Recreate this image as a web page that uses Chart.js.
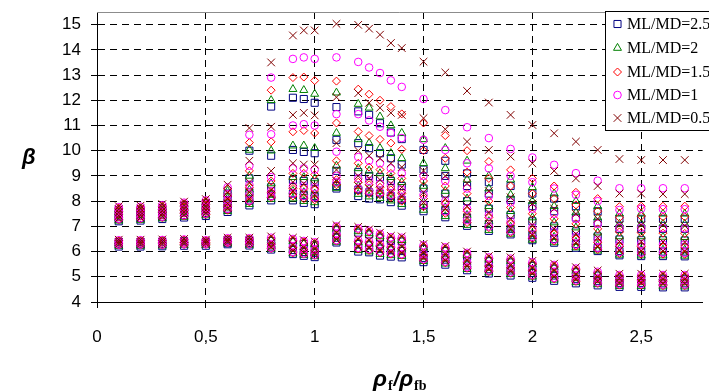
<!DOCTYPE html>
<html>
<head>
<meta charset="utf-8">
<script src="https://cdn.jsdelivr.net/npm/chart.js@4/dist/chart.umd.min.js"></script>
<style>
  html, body { margin: 0; padding: 0; background: #fff; overflow: hidden; }
  #wrap { width: 709px; height: 392px; position: relative; }
</style>
</head>
<body>
<div id="wrap"><canvas id="betaChart"></canvas></div>
<script>
// rho_f / rho_fb columns
const xValues = [0.1, 0.2, 0.3, 0.4, 0.5, 0.6, 0.7, 0.8, 0.9, 0.95, 1.0, 1.1, 1.2, 1.25, 1.3, 1.35, 1.4,
    1.5, 1.6, 1.7, 1.8, 1.9, 2.0, 2.1, 2.2, 2.3, 2.4, 2.5, 2.6, 2.7];

const xTickValues = [0, 0.5, 1, 1.5, 2, 2.5];
const yTickValues = [4, 5, 6, 7, 8, 9, 10, 11, 12, 13, 14, 15];

const seriesNames = ['ML/MD=2.5', 'ML/MD=2', 'ML/MD=1.5', 'ML/MD=1', 'ML/MD=0.5'];

// beta values per column (one list per xValues entry)
const beta25 = [
    [7.64, 7.52, 7.41, 7.3, 7.2, 6.38, 6.29, 6.2],
    [7.66, 7.54, 7.43, 7.33, 7.23, 6.38, 6.29, 6.2],
    [7.72, 7.6, 7.48, 7.38, 7.29, 6.39, 6.3, 6.21],
    [7.82, 7.69, 7.56, 7.45, 7.35, 6.41, 6.31, 6.23],
    [7.91, 7.77, 7.64, 7.52, 7.41, 6.38, 6.31, 6.23],
    [8.3, 8.05, 7.86, 7.7, 7.57, 6.45, 6.35, 6.29],
    [10.0, 8.9, 8.35, 8.02, 7.83, 6.45, 6.34, 6.24],
    [11.75, 9.8, 8.55, 8.2, 8.03, 6.42, 6.2, 6.08],
    [12.1, 10.03, 8.84, 8.3, 8.03, 6.37, 6.06, 5.9],
    [12.05, 9.95, 8.8, 8.25, 7.93, 6.3, 5.98, 5.83],
    [11.9, 9.9, 8.75, 8.2, 7.88, 6.25, 5.95, 5.78],
    [11.73, 10.43, 9.2, 8.6, 8.5, 6.85, 6.55, 6.36],
    [11.56, 10.3, 9.15, 8.45, 8.2, 6.75, 6.3, 6.0],
    [11.42, 10.1, 9.0, 8.35, 8.1, 6.68, 6.25, 5.97],
    [11.09, 9.9, 8.95, 8.3, 8.07, 6.55, 6.12, 5.84],
    [10.72, 9.7, 8.8, 8.2, 7.96, 6.42, 6.05, 5.8],
    [10.46, 9.45, 8.6, 8.05, 7.82, 6.4, 6.02, 5.77],
    [10.03, 9.25, 8.5, 7.85, 7.6, 6.1, 5.75, 5.58],
    [9.6, 9.0, 8.3, 7.65, 7.36, 6.02, 5.68, 5.48],
    [9.1, 8.6, 8.0, 7.35, 7.02, 5.8, 5.45, 5.26],
    [8.75, 8.3, 7.7, 7.1, 6.82, 5.62, 5.3, 5.13],
    [8.6, 8.05, 7.45, 6.9, 6.68, 5.57, 5.25, 5.05],
    [8.3, 7.8, 7.2, 6.65, 6.45, 5.43, 5.15, 4.96],
    [8.1, 7.6, 7.0, 6.5, 6.35, 5.32, 5.05, 4.84],
    [7.8, 7.35, 6.8, 6.3, 6.15, 5.18, 4.92, 4.74],
    [7.6, 7.15, 6.6, 6.15, 6.02, 5.05, 4.84, 4.66],
    [7.3, 6.9, 6.48, 6.02, 5.85, 4.92, 4.76, 4.6],
    [7.3, 6.9, 6.45, 6.0, 5.82, 4.92, 4.76, 4.6],
    [7.3, 6.9, 6.45, 6.0, 5.82, 4.92, 4.74, 4.58],
    [7.3, 6.9, 6.44, 6.0, 5.81, 4.92, 4.74, 4.58],
];

const beta2 = [
    [7.68, 7.56, 7.45, 7.33, 7.22, 6.4, 6.31, 6.22],
    [7.7, 7.58, 7.47, 7.36, 7.25, 6.4, 6.31, 6.22],
    [7.76, 7.64, 7.52, 7.41, 7.31, 6.41, 6.32, 6.23],
    [7.86, 7.73, 7.6, 7.48, 7.37, 6.43, 6.33, 6.25],
    [7.95, 7.81, 7.68, 7.55, 7.43, 6.4, 6.33, 6.25],
    [8.4, 8.12, 7.92, 7.74, 7.6, 6.47, 6.37, 6.31],
    [10.03, 9.0, 8.45, 8.1, 7.88, 6.47, 6.36, 6.26],
    [12.0, 10.0, 8.7, 8.25, 8.08, 6.45, 6.23, 6.1],
    [12.44, 10.2, 8.95, 8.4, 8.1, 6.4, 6.1, 5.92],
    [12.4, 10.2, 8.95, 8.35, 8.0, 6.33, 6.02, 5.86],
    [12.25, 10.1, 8.9, 8.3, 7.95, 6.28, 5.98, 5.81],
    [12.3, 10.7, 9.4, 8.7, 8.52, 6.9, 6.6, 6.38],
    [11.85, 10.45, 9.3, 8.6, 8.28, 6.8, 6.35, 6.05],
    [11.7, 10.3, 9.2, 8.5, 8.18, 6.72, 6.3, 6.0],
    [11.35, 10.1, 9.1, 8.4, 8.12, 6.6, 6.18, 5.9],
    [11.0, 9.9, 8.95, 8.3, 8.02, 6.47, 6.1, 5.85],
    [10.7, 9.7, 8.75, 8.15, 7.88, 6.45, 6.07, 5.82],
    [10.45, 9.5, 8.6, 7.95, 7.65, 6.15, 5.8, 5.62],
    [10.1, 9.3, 8.4, 7.75, 7.4, 6.07, 5.73, 5.52],
    [9.6, 8.85, 8.1, 7.45, 7.05, 5.85, 5.5, 5.3],
    [9.0, 8.5, 7.8, 7.2, 6.85, 5.67, 5.35, 5.17],
    [8.85, 8.25, 7.6, 6.98, 6.7, 5.62, 5.3, 5.1],
    [8.55, 8.0, 7.35, 6.72, 6.46, 5.48, 5.2, 5.0],
    [8.3, 7.8, 7.15, 6.58, 6.36, 5.37, 5.1, 4.88],
    [8.0, 7.55, 6.95, 6.38, 6.16, 5.23, 4.96, 4.78],
    [7.8, 7.35, 6.75, 6.25, 6.03, 5.1, 4.88, 4.7],
    [7.5, 7.1, 6.6, 6.1, 5.87, 4.97, 4.8, 4.63],
    [7.5, 7.1, 6.6, 6.08, 5.84, 4.97, 4.8, 4.63],
    [7.5, 7.1, 6.58, 6.07, 5.84, 4.97, 4.78, 4.61],
    [7.5, 7.1, 6.57, 6.07, 5.83, 4.97, 4.78, 4.61],
];

const beta15 = [
    [7.72, 7.6, 7.49, 7.37, 7.27, 6.43, 6.34, 6.26],
    [7.74, 7.62, 7.51, 7.4, 7.3, 6.43, 6.34, 6.26],
    [7.8, 7.68, 7.56, 7.45, 7.35, 6.44, 6.35, 6.26],
    [7.9, 7.77, 7.64, 7.52, 7.41, 6.46, 6.36, 6.28],
    [7.99, 7.85, 7.72, 7.59, 7.47, 6.43, 6.36, 6.28],
    [8.48, 8.2, 7.98, 7.8, 7.64, 6.5, 6.4, 6.34],
    [10.32, 9.2, 8.55, 8.2, 7.97, 6.5, 6.39, 6.29],
    [12.4, 10.35, 8.8, 8.35, 8.15, 6.5, 6.27, 6.12],
    [12.9, 10.75, 9.1, 8.5, 8.2, 6.45, 6.15, 5.95],
    [12.92, 10.8, 9.1, 8.5, 8.1, 6.38, 6.07, 5.9],
    [12.78, 10.7, 9.05, 8.45, 8.05, 6.33, 6.03, 5.85],
    [12.76, 11.1, 9.6, 8.85, 8.65, 6.96, 6.66, 6.42],
    [12.44, 10.76, 9.5, 8.75, 8.4, 6.87, 6.4, 6.1],
    [12.24, 10.6, 9.35, 8.65, 8.3, 6.78, 6.35, 6.05],
    [12.0, 10.45, 9.25, 8.55, 8.25, 6.65, 6.25, 5.95],
    [11.75, 10.3, 9.1, 8.45, 8.15, 6.52, 6.15, 5.9],
    [11.46, 10.05, 8.9, 8.3, 8.0, 6.5, 6.12, 5.86],
    [11.1, 10.0, 8.8, 8.1, 7.78, 6.2, 5.85, 5.66],
    [10.6, 9.7, 8.6, 7.9, 7.52, 6.12, 5.78, 5.56],
    [10.0, 9.15, 8.3, 7.6, 7.15, 5.9, 5.55, 5.34],
    [9.57, 8.9, 8.0, 7.35, 6.95, 5.72, 5.4, 5.21],
    [9.24, 8.6, 7.75, 7.1, 6.75, 5.67, 5.35, 5.14],
    [8.9, 8.3, 7.5, 6.85, 6.52, 5.53, 5.25, 5.04],
    [8.6, 8.1, 7.3, 6.7, 6.42, 5.42, 5.15, 4.92],
    [8.35, 7.85, 7.1, 6.5, 6.22, 5.28, 5.0, 4.82],
    [8.1, 7.6, 6.9, 6.35, 6.08, 5.15, 4.92, 4.74],
    [7.78, 7.35, 6.78, 6.2, 5.92, 5.02, 4.84, 4.67],
    [7.8, 7.4, 6.75, 6.2, 5.9, 5.02, 4.84, 4.67],
    [7.8, 7.38, 6.73, 6.18, 5.9, 5.02, 4.82, 4.65],
    [7.8, 7.38, 6.72, 6.18, 5.89, 5.02, 4.82, 4.65],
];

const beta1 = [
    [7.76, 7.64, 7.52, 7.4, 7.3, 6.45, 6.36, 6.28],
    [7.78, 7.66, 7.54, 7.43, 7.33, 6.45, 6.36, 6.28],
    [7.84, 7.71, 7.59, 7.48, 7.38, 6.46, 6.37, 6.28],
    [7.94, 7.8, 7.67, 7.55, 7.44, 6.48, 6.38, 6.3],
    [8.03, 7.88, 7.75, 7.62, 7.5, 6.45, 6.38, 6.3],
    [8.55, 8.27, 8.04, 7.86, 7.69, 6.53, 6.43, 6.36],
    [10.63, 9.4, 8.65, 8.28, 8.03, 6.53, 6.41, 6.31],
    [12.9, 10.65, 8.95, 8.4, 8.2, 6.55, 6.3, 6.15],
    [13.64, 11.0, 9.3, 8.6, 8.3, 6.5, 6.2, 5.98],
    [13.7, 11.05, 9.3, 8.6, 8.2, 6.42, 6.1, 5.92],
    [13.64, 11.0, 9.25, 8.55, 8.15, 6.37, 6.06, 5.87],
    [13.7, 11.45, 9.96, 9.0, 8.75, 7.0, 6.7, 6.45],
    [13.52, 11.45, 9.75, 8.9, 8.5, 6.92, 6.45, 6.15],
    [13.3, 11.2, 9.6, 8.8, 8.4, 6.83, 6.4, 6.1],
    [13.08, 10.95, 9.5, 8.7, 8.35, 6.7, 6.3, 6.0],
    [12.79, 10.7, 9.3, 8.6, 8.25, 6.57, 6.2, 5.94],
    [12.53, 10.5, 9.1, 8.45, 8.1, 6.55, 6.16, 5.9],
    [12.05, 10.43, 9.0, 8.25, 7.85, 6.25, 5.9, 5.7],
    [11.61, 10.03, 8.8, 8.0, 7.6, 6.17, 5.83, 5.6],
    [10.93, 9.5, 8.5, 7.7, 7.25, 5.95, 5.6, 5.38],
    [10.5, 9.3, 8.2, 7.45, 7.0, 5.77, 5.45, 5.25],
    [10.07, 9.0, 7.95, 7.2, 6.82, 5.72, 5.4, 5.18],
    [9.73, 8.75, 7.7, 6.95, 6.58, 5.58, 5.3, 5.08],
    [9.44, 8.5, 7.5, 6.8, 6.48, 5.47, 5.2, 4.96],
    [9.11, 8.25, 7.3, 6.6, 6.28, 5.33, 5.05, 4.86],
    [8.81, 8.0, 7.1, 6.45, 6.15, 5.2, 4.96, 4.78],
    [8.51, 7.65, 6.95, 6.3, 5.98, 5.07, 4.88, 4.71],
    [8.51, 7.7, 6.95, 6.3, 5.96, 5.07, 4.88, 4.71],
    [8.51, 7.68, 6.93, 6.28, 5.96, 5.07, 4.86, 4.69],
    [8.51, 7.68, 6.92, 6.28, 5.95, 5.07, 4.86, 4.69],
];

const beta05 = [
    [7.8, 7.68, 7.55, 7.42, 7.32, 6.47, 6.38, 6.3],
    [7.82, 7.7, 7.57, 7.45, 7.35, 6.47, 6.38, 6.3],
    [7.88, 7.75, 7.62, 7.5, 7.4, 6.48, 6.39, 6.3],
    [7.98, 7.83, 7.7, 7.57, 7.46, 6.5, 6.4, 6.32],
    [8.08, 7.92, 7.78, 7.65, 7.52, 6.47, 6.4, 6.32],
    [8.65, 8.35, 8.1, 7.9, 7.72, 6.55, 6.45, 6.38],
    [10.9, 9.6, 8.75, 8.35, 8.1, 6.55, 6.43, 6.33],
    [13.5, 10.95, 9.2, 8.45, 8.25, 6.6, 6.35, 6.18],
    [14.57, 11.42, 9.5, 8.75, 8.4, 6.55, 6.25, 6.02],
    [14.77, 11.5, 9.45, 8.7, 8.3, 6.45, 6.15, 5.95],
    [14.77, 11.4, 9.45, 8.65, 8.25, 6.4, 6.1, 5.9],
    [15.03, 12.12, 10.3, 9.24, 8.8, 7.05, 6.75, 6.48],
    [14.99, 12.28, 10.0, 9.0, 8.6, 6.98, 6.5, 6.2],
    [14.84, 11.9, 9.8, 8.9, 8.5, 6.88, 6.45, 6.15],
    [14.6, 11.7, 9.7, 8.85, 8.45, 6.75, 6.35, 6.05],
    [14.27, 11.5, 9.5, 8.7, 8.35, 6.62, 6.25, 5.98],
    [14.07, 11.42, 9.35, 8.55, 8.2, 6.6, 6.2, 5.95],
    [13.53, 11.29, 9.2, 8.35, 7.95, 6.3, 5.95, 5.75],
    [13.1, 10.85, 9.0, 8.1, 7.7, 6.22, 5.88, 5.65],
    [12.37, 10.36, 8.7, 7.8, 7.35, 6.0, 5.65, 5.42],
    [11.91, 10.03, 8.4, 7.55, 7.1, 5.82, 5.5, 5.3],
    [11.42, 9.77, 8.15, 7.3, 6.9, 5.77, 5.45, 5.22],
    [11.02, 9.5, 7.9, 7.05, 6.65, 5.63, 5.35, 5.12],
    [10.69, 9.2, 7.7, 6.9, 6.55, 5.52, 5.25, 5.0],
    [10.36, 8.9, 7.5, 6.7, 6.35, 5.38, 5.1, 4.9],
    [10.03, 8.6, 7.3, 6.55, 6.2, 5.25, 5.0, 4.82],
    [9.67, 8.3, 7.05, 6.4, 6.05, 5.12, 4.92, 4.75],
    [9.63, 8.3, 7.05, 6.4, 6.02, 5.12, 4.92, 4.75],
    [9.63, 8.28, 7.05, 6.38, 6.02, 5.12, 4.9, 4.73],
    [9.63, 8.28, 7.02, 6.38, 6.0, 5.12, 4.9, 4.73],
];

const seriesValues = [beta25, beta2, beta15, beta1, beta05];
const seriesColors = ['#000080', '#008000', '#ff0000', '#ff00ff', '#800000'];
const seriesMarkers = ['rect', 'triangle', 'rectRot', 'circle', 'crossRot'];
const markerRadius = [5, 4.6, 4, 3.8, 5.4];

function toPoints(columns) {
    const pts = [];
    columns.forEach((ys, i) => ys.forEach(y => pts.push({ x: xValues[i], y })));
    return pts;
}

const commaLabel = v => String(v).replace('.', ',');

const frame = {
    id: 'frame',
    afterDraw(chart) {
        const { ctx, chartArea } = chart;
        ctx.save();
        // top border of plot area
        ctx.strokeStyle = '#8c8c8c';
        ctx.lineWidth = 1;
        ctx.beginPath();
        ctx.moveTo(chartArea.left, chartArea.top + 0.5);
        ctx.lineTo(chartArea.right, chartArea.top + 0.5);
        ctx.stroke();

        // legend box
        ctx.fillStyle = '#fff';
        ctx.fillRect(605, 11, 110, 120);
        ctx.strokeStyle = '#000';
        ctx.strokeRect(605.5, 11.5, 110, 119);
        const rowY = [24, 48, 72, 95, 118];
        ctx.font = '16px "Liberation Serif", "Times New Roman", serif';
        ctx.textBaseline = 'middle';
        ctx.textAlign = 'left';
        seriesNames.forEach((name, i) => {
            ctx.strokeStyle = seriesColors[i];
            ctx.fillStyle = 'rgba(0,0,0,0)';
            ctx.lineWidth = 1;
            Chart.helpers.drawPoint(ctx, {
                pointStyle: seriesMarkers[i],
                radius: markerRadius[i],
                rotation: 0,
                borderWidth: 1,
            }, 617.5, rowY[i]);
            ctx.fillStyle = '#000';
            ctx.fillText(name, 627, rowY[i] + 1);
        });

        // axis titles
        ctx.fillStyle = '#000';
        ctx.textBaseline = 'alphabetic';
        ctx.font = 'bold italic 22px "Liberation Sans", Arial, sans-serif';
        ctx.fillText('β', 22, 164);

        let x = 373;
        const base = 386;
        ctx.font = 'bold italic 23px "Liberation Sans", Arial, sans-serif';
        ctx.fillText('ρ', x, base);
        x += ctx.measureText('ρ').width + 1;
        ctx.font = 'bold 14px "Liberation Serif", "Times New Roman", serif';
        ctx.fillText('f', x, base + 4);
        x += ctx.measureText('f').width + 1;
        ctx.font = 'bold italic 20px "Liberation Sans", Arial, sans-serif';
        ctx.fillText('/', x, base);
        x += ctx.measureText('/').width;
        ctx.font = 'bold italic 23px "Liberation Sans", Arial, sans-serif';
        ctx.fillText('ρ', x, base);
        x += ctx.measureText('ρ').width + 1;
        ctx.font = 'bold 14px "Liberation Serif", "Times New Roman", serif';
        ctx.fillText('fb', x, base + 4);
        ctx.restore();
    },
};

Chart.defaults.font.family = '"Liberation Sans", Arial, sans-serif';
Chart.defaults.font.size = 17;
Chart.defaults.color = '#000';

new Chart(document.getElementById('betaChart'), {
    type: 'scatter',
    data: {
        datasets: seriesNames.map((name, i) => ({
            label: name,
            data: toPoints(seriesValues[i]),
            pointStyle: seriesMarkers[i],
            pointRadius: markerRadius[i],
            pointBorderWidth: 1,
            borderColor: seriesColors[i],
            backgroundColor: 'rgba(0,0,0,0)',
            order: seriesNames.length - i,
        })),
    },
    options: {
        responsive: true,
        maintainAspectRatio: false,
        animation: false,
        devicePixelRatio: 1,
        layout: { padding: { left: 0, right: 0, top: 12, bottom: 0 } },
        plugins: {
            legend: { display: false },
            tooltip: { enabled: false },
        },
        scales: {
            x: {
                type: 'linear',
                min: 0,
                max: 2.782,
                afterBuildTicks: scale => { scale.ticks = xTickValues.map(v => ({ value: v })); },
                afterFit: scale => { scale.height = 90; scale.paddingLeft = 0; scale.paddingRight = 0; },
                ticks: { callback: v => commaLabel(v), padding: 19, maxRotation: 0, autoSkip: false },
                grid: {
                    color: c => (c.tick && c.tick.value === 0 ? 'rgba(0,0,0,0)' : '#000'),
                    lineWidth: 1,
                    tickLength: 6,
                    tickColor: '#000',
                },
                border: { display: true, color: '#000', width: 1, dash: [7, 5] },
            },
            y: {
                min: 4,
                max: 15.5,
                afterBuildTicks: scale => { scale.ticks = yTickValues.map(v => ({ value: v })); },
                afterFit: scale => { scale.width = 97; scale.paddingTop = 0; scale.paddingBottom = 0; },
                ticks: { padding: 10, autoSkip: false },
                grid: {
                    color: c => (c.tick && c.tick.value === 4 ? 'rgba(0,0,0,0)' : '#000'),
                    lineWidth: 1,
                    tickLength: 6,
                    tickColor: '#000',
                },
                border: { display: true, color: '#000', width: 1, dash: [7, 5] },
            },
        },
    },
    plugins: [frame],
});
</script>
</body>
</html>
